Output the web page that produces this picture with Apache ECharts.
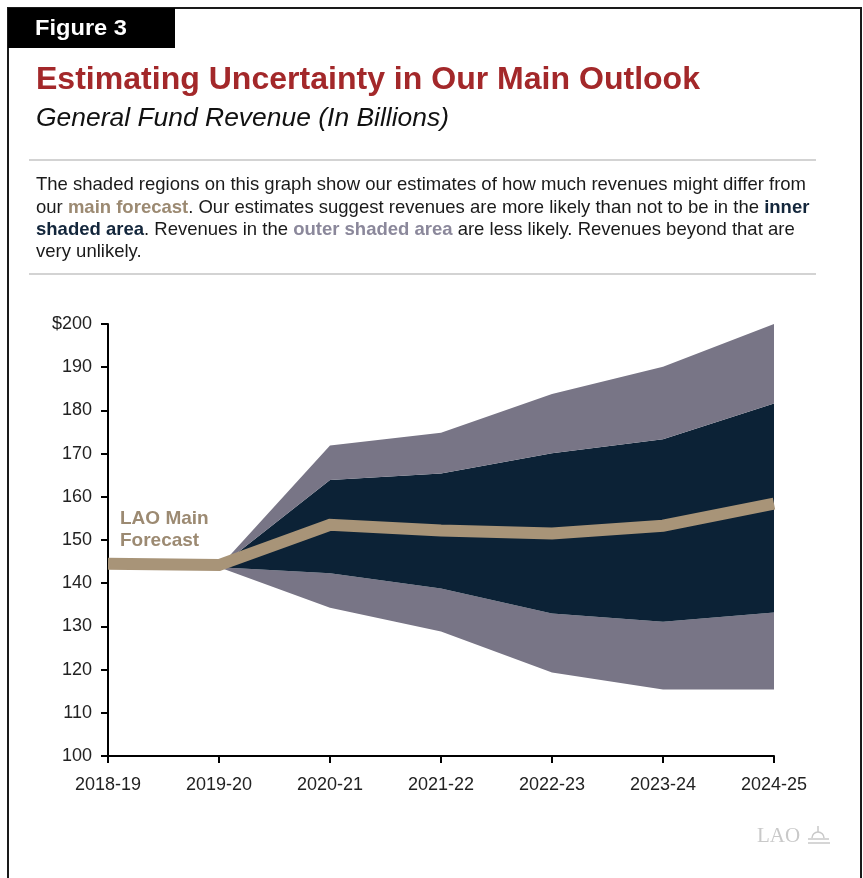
<!DOCTYPE html>
<html>
<head>
<meta charset="utf-8">
<script src="https://cdn.jsdelivr.net/npm/echarts@6/dist/echarts.min.js"></script>
<style>
html,body{margin:0;padding:0;background:#fff;}
#chart{width:863px;height:878px;}
</style>
</head>
<body>
<div id="chart"></div>
<script>
// ---- data ----
const categories = ['2018-19', '2019-20', '2020-21', '2021-22', '2022-23', '2023-24', '2024-25'];
const mainForecast = [144.5, 144.2, 153.5, 152.2, 151.5, 153.3, 158.4];
const outerHigh = ['-', 143.7, 171.9, 174.8, 183.8, 190.1, 200.0];
const innerHigh = ['-', 143.7, 163.9, 165.4, 170.1, 173.3, 181.6];
const innerLow  = ['-', 143.7, 142.3, 138.8, 133.0, 131.1, 133.2];
const outerLow  = ['-', 143.7, 134.3, 128.8, 119.3, 115.4, 115.4];
const yTicks = { min: 100, max: 200, interval: 10 };

const titleText = 'Estimating Uncertainty in Our Main Outlook';
const subtitleText = 'General Fund Revenue (In Billions)';
const paraLine1 = 'The shaded regions on this graph show our estimates of how much revenues might differ from';

// ---- helpers ----
function diff(a, b) {
  return a.map((v, i) => (v === '-' || b[i] === '-') ? '-' : +(v - b[i]).toFixed(2));
}
const cnv = document.createElement('canvas').getContext('2d');
function scaleFor(text, font, target) {
  cnv.font = font;
  return target / cnv.measureText(text).width;
}

const FONT = "'Liberation Sans', Arial, sans-serif";
const fig3Font = "bold 22px " + FONT;
const titleFont = "bold 32px " + FONT;
const subFont = "italic 25px " + FONT;
const paraFont = "18.5px " + FONT;

const sFig = scaleFor('Figure 3', fig3Font, 92);
const sTitle = scaleFor(titleText, titleFont, 664);
const sSub = scaleFor(subtitleText, subFont, 413);
const sPara = scaleFor(paraLine1, paraFont, 770);

const GRAY = '#787586';
const NAVY = '#0c2236';
const TAN = '#a89478';
const RED = '#a3282a';

const chart = echarts.init(document.getElementById('chart'), null, { renderer: 'canvas' });

function paraText(x, y, text, rich) {
  return {
    type: 'text', x: x, y: y, scaleX: sPara, scaleY: 1,
    style: {
      text: text, x: 0, y: 0, font: paraFont, fill: '#1a1a1a',
      verticalAlign: 'middle', textVerticalAlign: 'middle',
      rich: rich || {}
    }
  };
}
const richStyles = {
  t: { fontWeight: 'bold', fill: '#9c8a72', color: '#9c8a72', fontSize: 18.5, fontFamily: FONT },
  n: { fontWeight: 'bold', fill: '#13263b', color: '#13263b', fontSize: 18.5, fontFamily: FONT },
  g: { fontWeight: 'bold', fill: '#8b889b', color: '#8b889b', fontSize: 18.5, fontFamily: FONT },
  r: { fill: '#1a1a1a', color: '#1a1a1a', fontSize: 18.5, fontFamily: FONT }
};

const option = {
  animation: false,
  backgroundColor: '#fff',
  grid: { left: 108, right: 89, top: 324, bottom: 122, containLabel: false },
  xAxis: {
    type: 'category',
    data: categories,
    boundaryGap: false,
    axisLine: { show: true, lineStyle: { color: '#000', width: 2 } },
    axisTick: { show: true, alignWithLabel: true, length: 7, lineStyle: { color: '#000', width: 2 } },
    axisLabel: { color: '#222', fontSize: 18, fontFamily: FONT, margin: 20 },
    splitLine: { show: false }
  },
  yAxis: {
    type: 'value',
    min: yTicks.min, max: yTicks.max, interval: yTicks.interval,
    axisLine: { show: true, lineStyle: { color: '#000', width: 2 } },
    axisTick: { show: true, length: 7, lineStyle: { color: '#000', width: 2 } },
    axisLabel: { color: '#222', fontSize: 18, fontFamily: FONT, margin: 16,
      formatter: v => v === yTicks.max ? '$' + v : String(v) },
    splitLine: { show: false }
  },
  series: [
    { name: 'base', type: 'line', stack: 'band', data: outerLow, symbol: 'none',
      lineStyle: { width: 0, opacity: 0 }, areaStyle: { opacity: 0 }, silent: true },
    { name: 'outerLowBand', type: 'line', stack: 'band', data: diff(innerLow, outerLow), symbol: 'none',
      lineStyle: { width: 0, opacity: 0 }, areaStyle: { color: GRAY, opacity: 1 } },
    { name: 'innerBand', type: 'line', stack: 'band', data: diff(innerHigh, innerLow), symbol: 'none',
      lineStyle: { width: 0, opacity: 0 }, areaStyle: { color: NAVY, opacity: 1 } },
    { name: 'outerHighBand', type: 'line', stack: 'band', data: diff(outerHigh, innerHigh), symbol: 'none',
      lineStyle: { width: 0, opacity: 0 }, areaStyle: { color: GRAY, opacity: 1 } },
    { name: 'LAO Main Forecast', type: 'line', data: mainForecast, symbol: 'none', z: 5,
      lineStyle: { color: TAN, width: 12, cap: 'butt', join: 'miter' } }
  ],
  graphic: [
    // frame
    { type: 'rect', shape: { x: 8, y: 8, width: 853, height: 880 },
      style: { fill: 'none', stroke: '#1a1a1a', lineWidth: 2 }, z: 0 },
    { type: 'rect', shape: { x: 8, y: 8, width: 167, height: 40 }, style: { fill: '#000' } },
    { type: 'text', x: 35, y: 29, scaleX: sFig,
      style: { text: 'Figure 3', x: 0, y: 0, font: fig3Font, fill: '#fff', verticalAlign: 'middle', textVerticalAlign: 'middle' } },
    { type: 'text', x: 36, y: 80, scaleX: sTitle,
      style: { text: titleText, x: 0, y: 0, font: titleFont, fill: RED, verticalAlign: 'middle', textVerticalAlign: 'middle' } },
    { type: 'text', x: 36, y: 119, scaleX: sSub,
      style: { text: subtitleText, x: 0, y: 0, font: subFont, fill: '#111', verticalAlign: 'middle', textVerticalAlign: 'middle' } },
    { type: 'line', shape: { x1: 29, y1: 160, x2: 816, y2: 160 }, style: { stroke: '#d3d3d3', lineWidth: 2 } },
    { type: 'line', shape: { x1: 29, y1: 274, x2: 816, y2: 274 }, style: { stroke: '#d3d3d3', lineWidth: 2 } },
    paraText(36, 185, paraLine1),
    paraText(36, 208, '{r|our }{t|main forecast}{r|. Our estimates suggest revenues are more likely than not to be in the }{n|inner}', richStyles),
    paraText(36, 230, '{n|shaded area}{r|. Revenues in the }{g|outer shaded area}{r| are less likely. Revenues beyond that are}', richStyles),
    paraText(36, 252, 'very unlikely.'),
    // series label
    { type: 'text', x: 120, y: 530,
      style: { text: 'LAO Main\nForecast', x: 0, y: 0, font: 'bold 19px ' + FONT, fill: '#9c8a72',
        lineHeight: 22, verticalAlign: 'middle', textVerticalAlign: 'middle' } },
    // LAO logo
    { type: 'text', x: 757, y: 836,
      style: { text: 'LAO', x: 0, y: 0, font: "21px 'Liberation Serif', serif", fill: '#c9c9c9',
        verticalAlign: 'middle', textVerticalAlign: 'middle' } },
    { type: 'arc', shape: { cx: 818, cy: 838, r: 6, startAngle: Math.PI, endAngle: 2 * Math.PI },
      style: { stroke: '#c9c9c9', fill: 'none', lineWidth: 1.5 } },
    { type: 'line', shape: { x1: 808, y1: 839, x2: 829, y2: 839 }, style: { stroke: '#c9c9c9', lineWidth: 1.5 } },
    { type: 'line', shape: { x1: 808, y1: 843, x2: 830, y2: 843 }, style: { stroke: '#c9c9c9', lineWidth: 1.5 } },
    { type: 'line', shape: { x1: 818, y1: 826, x2: 818, y2: 832 }, style: { stroke: '#c9c9c9', lineWidth: 1.5 } }
  ]
};
chart.setOption(option);
</script>
</body>
</html>
